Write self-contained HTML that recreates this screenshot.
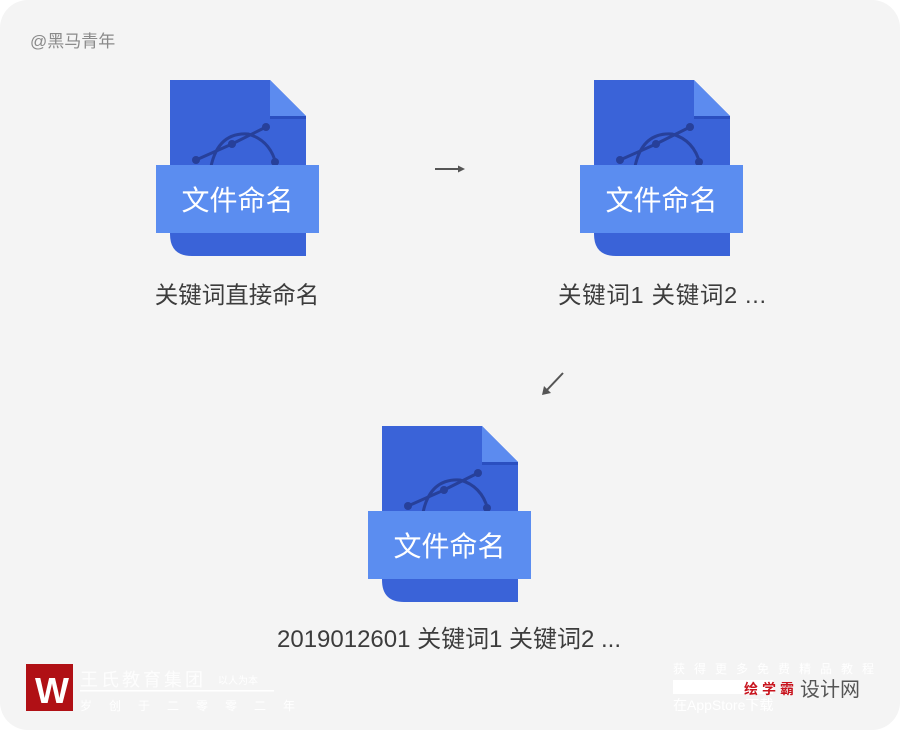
<!DOCTYPE html>
<html><head><meta charset="utf-8"><style>
html,body{margin:0;padding:0;background:#fff;}
svg{display:block;}
text{font-family:"Liberation Sans","Noto Sans CJK SC",sans-serif;}
</style></head><body>
<svg width="900" height="730" viewBox="0 0 900 730" xmlns="http://www.w3.org/2000/svg">
<defs>
<g id="file">
  <path d="M0 0 H100 L136 36 V176 H22 Q0 176 0 154 Z" fill="#3a63d8"/>
  <path d="M100 0 L136 36 H100 Z" fill="#5c8bef"/>
  <rect x="100" y="36" width="36" height="3" fill="#2a4fc0"/>
  <g stroke="#27409a" stroke-width="3" fill="none">
    <path d="M26 80 L62 64 L96 47"/>
    <path d="M40 92 Q46 52 78 54 Q100 60 106 84"/>
  </g>
  <g fill="#27409a"><circle cx="26" cy="80" r="4"/><circle cx="62" cy="64" r="4"/><circle cx="96" cy="47" r="4"/><circle cx="105" cy="82" r="4"/></g>
  <rect x="-14" y="85" width="163" height="68" fill="#5b8df0"/>
  <text x="67.5" y="130" font-size="28" fill="#fff" text-anchor="middle">文件命名</text>
</g>
</defs>
<rect x="0" y="0" width="900" height="730" rx="28" fill="#f4f4f4"/>
<text x="30" y="47" font-size="17" fill="#8a8a8a">@黑马青年</text>
<use href="#file" x="170" y="80"/>
<use href="#file" x="594" y="80"/>
<use href="#file" x="382" y="426"/>
<text x="237" y="303" font-size="23.5" fill="#3c3c3c" text-anchor="middle">关键词直接命名</text>
<text x="662" y="303" font-size="23.5" fill="#3c3c3c" text-anchor="middle" textLength="208">关键词1 关键词2 ...</text>
<text x="449" y="647" font-size="24" fill="#3c3c3c" text-anchor="middle" textLength="344">2019012601 关键词1 关键词2 ...</text>
<g stroke="#555" stroke-width="2" fill="#555">
  <line x1="435" y1="169" x2="460" y2="169"/>
  <path d="M465 169 L458 165.5 L458 172.5 Z" stroke="none"/>
  <line x1="563" y1="373" x2="546" y2="391"/>
  <path d="M542 395 L544 386 L551 393 Z" stroke="none"/>
</g>
<rect x="26" y="664" width="47" height="47" fill="#b01015"/>
<text x="35" y="703" font-size="36" fill="#fff" font-weight="bold">W</text>
<text x="80" y="686" font-size="18" fill="#fff" opacity="0.9" letter-spacing="3">王氏教育集团</text>
<text x="218" y="684" font-size="10" fill="#fff">以人为本</text>
<rect x="80" y="690" width="194" height="1.5" fill="#fff"/>
<text x="80" y="710" font-size="12" fill="#fff" letter-spacing="17">岁创于二零零二年</text>
<text x="673" y="673" font-size="12" fill="#fff" letter-spacing="9">获得更多免费精品教程</text>
<rect x="673" y="680" width="100" height="14" fill="#fff"/>
<text x="673" y="710" font-size="14" fill="#fff">在AppStore下载</text>
<text x="744" y="694" font-size="14" fill="#c8141e" font-weight="bold" letter-spacing="4">绘学霸</text>
<text x="800" y="696" font-size="20" fill="#555">设计网</text>
</svg>
</body></html>
